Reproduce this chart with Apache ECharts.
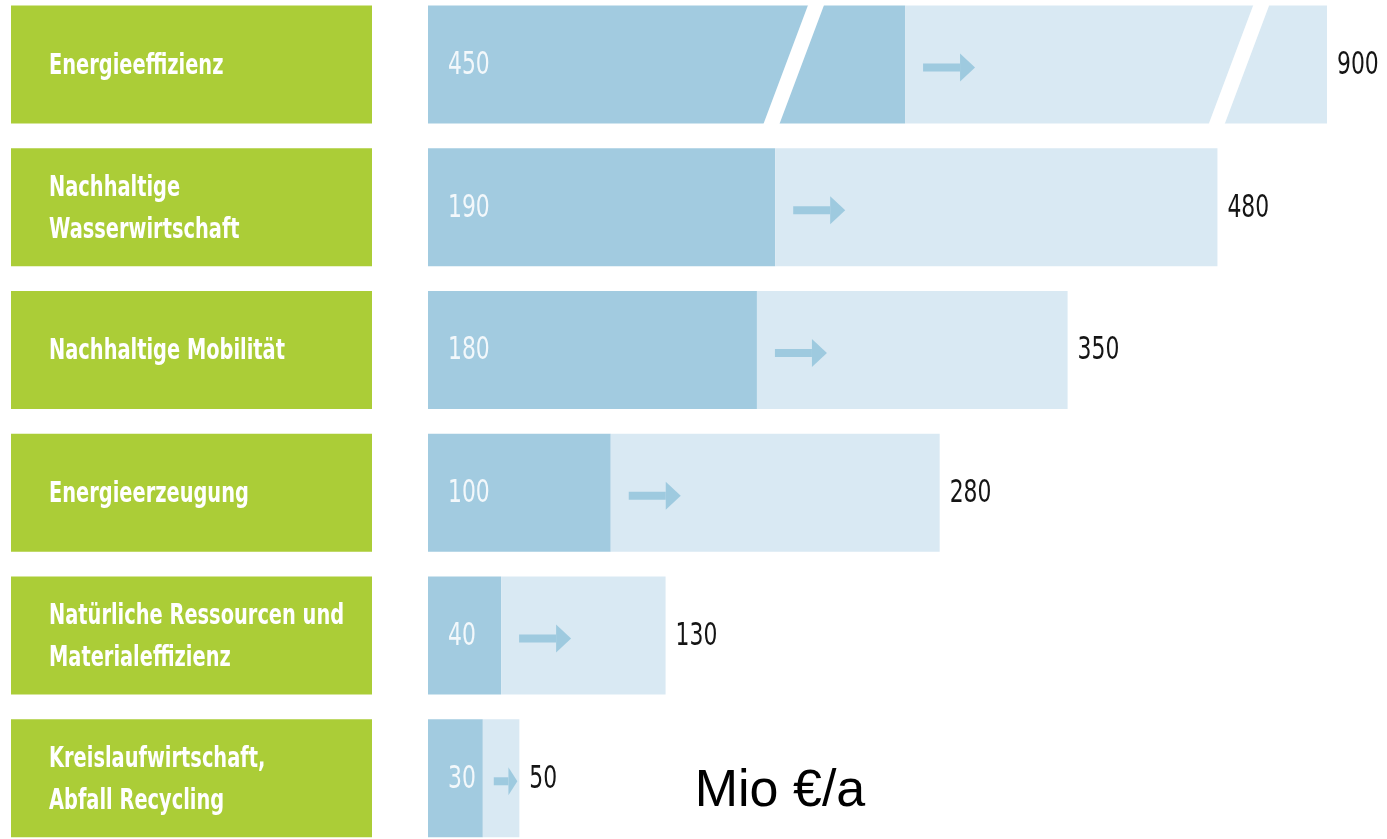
<!DOCTYPE html>
<html><head><meta charset="utf-8">
<script src="https://cdn.jsdelivr.net/npm/echarts@6/dist/echarts.min.js"></script>
<style>html,body{margin:0;padding:0;background:#fff}#c{width:1387px;height:839px}</style>
</head><body><div id="c"></div>
<script>
// ---- data ----
const categories = ['Energieeffizienz', 'Nachhaltige\nWasserwirtschaft', 'Nachhaltige Mobilität', 'Energieerzeugung', 'Natürliche Ressourcen und\nMaterialeffizienz', 'Kreislaufwirtschaft,\nAbfall Recycling'];
const currentValues = [450, 190, 180, 100, 40, 30];
const futureValues = [900, 480, 350, 280, 130, 50];
const unitLabel = 'Mio €/a';

// ---- styles ----
const GREEN = '#abcd37', DARK = '#a2cbe0', LIGHT = '#d9e9f3', ARROW = '#9ecadf';
const NARROW = '"DejaVu Sans Condensed","Liberation Sans Narrow",sans-serif';

const chart = echarts.init(document.getElementById('c'), null, {renderer: 'canvas'});

function catAxis(gridIndex, data) {
  return {
    type: 'category', gridIndex: gridIndex, data: data, inverse: true,
    axisLine: {show: false}, axisTick: {show: false}, splitLine: {show: false}, axisLabel: {show: false}
  };
}
function valAxis(gridIndex, max, breaks) {
  const a = {
    type: 'value', gridIndex: gridIndex, min: 0, max: max,
    axisLine: {show: false}, axisTick: {show: false}, splitLine: {show: false}, axisLabel: {show: false}
  };
  if (breaks) { a.breaks = breaks; a.breakArea = {show: false}; }
  return a;
}
function rowItem(offset) {
  return function (params, api) {
    const i = params.dataIndex + offset;
    const c = api.value(0), f = api.value(1), k = api.value(2);
    const pz = api.coord([0, k]), p0 = api.coord([c, k]), p1 = api.coord([f, k]);
    const yc = p0[1];
    const span = p1[0] - p0[0];
    let xs, xe;
    if (span > 90) { xs = p0[0] + 18; xe = xs + 52; } else { xs = p0[0] + span * 0.3; xe = p1[0] - 2; }
    const ya = yc + 3;
    const head = Math.min(15, (xe - xs) * 0.38);
    return {type: 'group', children: [
      {type: 'rect', shape: {x: pz[0] - 417, y: yc - 59, width: 361, height: 118}, style: {fill: GREEN}},
      {type: 'text', x: pz[0] - 379, y: yc + 2, scaleX: 0.77,
       style: {text: categories[i], fill: '#ffffff', fontFamily: NARROW, fontWeight: 'bold', fontSize: 28,
               lineHeight: 42, align: 'left', verticalAlign: 'middle'}},
      {type: 'text', x: pz[0] + 20, y: yc + 1, scaleX: 0.76,
       style: {text: String(currentValues[i]), fill: '#f3f8fb', fontFamily: NARROW, fontSize: 32,
               align: 'left', verticalAlign: 'middle'}},
      {type: 'rect', shape: {x: xs, y: ya - 4, width: xe - head - xs, height: 8}, style: {fill: ARROW}},
      {type: 'polygon', shape: {points: [[xe - head, ya - 14], [xe, ya], [xe - head, ya + 14]]}, style: {fill: ARROW}},
      {type: 'text', x: p1[0] + 10, y: yc + 1, scaleX: 0.76,
       style: {text: String(futureValues[i]), fill: '#151515', fontFamily: NARROW, fontSize: 32,
               align: 'left', verticalAlign: 'middle'}}
    ]};
  };
}
function rowSeries(g, cur, fut, offset) {
  return [
    {type: 'bar', xAxisIndex: g, yAxisIndex: g, stack: 's' + g, barWidth: 118, silent: true,
     itemStyle: {color: DARK}, data: cur},
    {type: 'bar', xAxisIndex: g, yAxisIndex: g, stack: 's' + g, barWidth: 118, silent: true,
     itemStyle: {color: LIGHT}, data: fut.map((v, i) => v - cur[i])},
    {type: 'custom', xAxisIndex: g, yAxisIndex: g, silent: true, z: 5, clip: false,
     encode: {x: [0, 1], y: 2}, renderItem: rowItem(offset),
     data: cur.map((v, i) => [v, fut[i], i])}
  ];
}

// row 1 is drawn "not to scale" in the reference (interrupted bar)
const topBreaks = [{start: 765, end: 817, gap: 0}];
const mainBreaks = [{start: 400, end: 448, gap: 0}];

const option = {
  animation: false,
  backgroundColor: '#ffffff',
  grid: [
    {left: 428, top: 5.5, width: 899, height: 118, outerBoundsMode: 'none'},
    {left: 428, top: 135.9, width: 826, height: 713.75, outerBoundsMode: 'none'}
  ],
  xAxis: [valAxis(0, 900, topBreaks), valAxis(1, 500, mainBreaks)],
  yAxis: [catAxis(0, categories.slice(0, 1)), catAxis(1, categories.slice(1))],
  series: [].concat(
    rowSeries(0, currentValues.slice(0, 1), futureValues.slice(0, 1), 0),
    rowSeries(1, currentValues.slice(1), futureValues.slice(1), 1)
  )
};
chart.setOption(option);

// interruption marks on the first bar + unit text
const yc = chart.convertToPixel({yAxisIndex: 0}, 0);
const slashValues = [345, 765];
const graphics = slashValues.map(v => {
  const cx = chart.convertToPixel({xAxisIndex: 0}, v);
  const t = yc - 60, b = yc + 60, d = 22.5, w = 8;
  return {type: 'polygon', z: 100, silent: true,
    shape: {points: [[cx + d - w, t], [cx + d + w, t], [cx - d + w, b], [cx - d - w, b]]},
    style: {fill: '#ffffff'}};
});
graphics.push({type: 'text', z: 100, silent: true,
  style: {x: 780, y: 792, text: unitLabel, fill: '#000', font: '52px "Liberation Sans", Arial, sans-serif',
          textAlign: 'center', textVerticalAlign: 'middle'}});
chart.setOption({graphic: graphics});
</script>
</body></html>
